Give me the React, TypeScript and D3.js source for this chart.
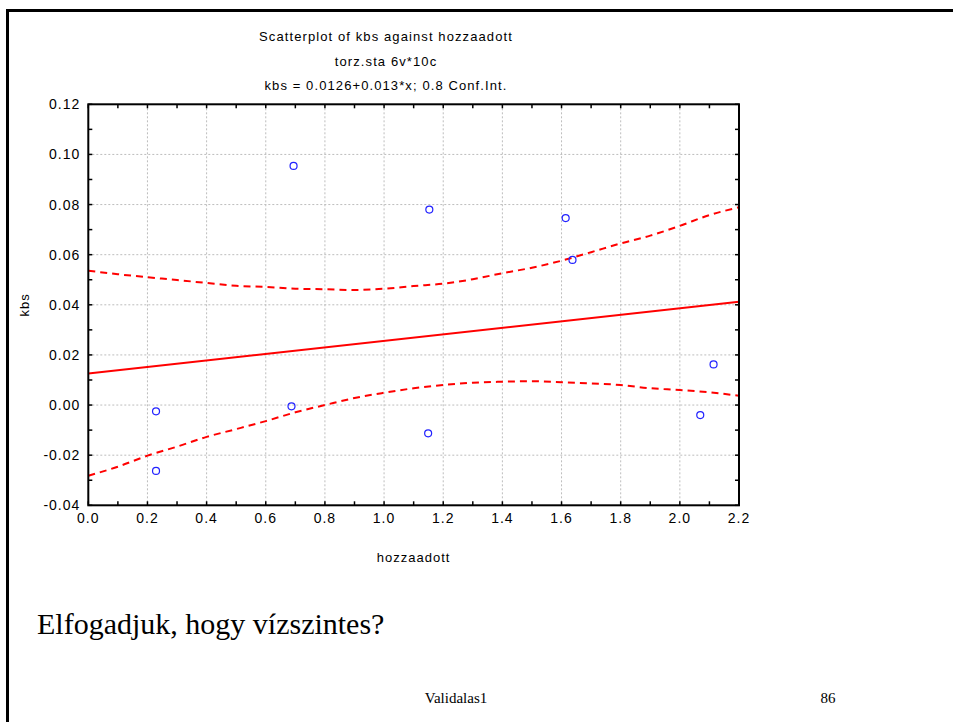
import React from "react";
import * as d3 from "d3";

// Observations: hozzaadott (x) and kbs (y)
const pointX = [0.229, 0.229, 0.687, 0.694, 1.149, 1.153, 1.614, 1.637, 2.069, 2.114];
const pointY = [-0.0025, -0.0263, -0.0005, 0.0954, -0.0113, 0.078, 0.0746, 0.0579, -0.004, 0.0162];

// Fitted line kbs = 0.0126 + 0.013*x
const fitIntercept = 0.0126;
const fitSlope = 0.013;

// 0.8 confidence band, sampled along x
const bandX = [0, 0.1, 0.2, 0.3, 0.4, 0.5, 0.6, 0.7, 0.8, 0.9, 1.0, 1.1, 1.2, 1.3, 1.4, 1.5, 1.6, 1.7, 1.8, 1.9, 2.0, 2.1, 2.2];
const bandUpper = [0.0536, 0.0522, 0.051, 0.0499, 0.0487, 0.0476, 0.0471, 0.0464, 0.0462, 0.0459, 0.0464, 0.0475, 0.0484, 0.0502, 0.0526, 0.0548, 0.0576, 0.061, 0.0645, 0.0676, 0.0715, 0.0758, 0.0789];
const bandLower = [-0.0282, -0.0246, -0.0202, -0.0166, -0.0127, -0.0096, -0.0064, -0.0029, 0.0, 0.0028, 0.0049, 0.0067, 0.008, 0.0089, 0.0093, 0.0095, 0.0091, 0.0086, 0.008, 0.0067, 0.006, 0.0051, 0.0037];

// Axis ticks
const xTicks = [0, 0.2, 0.4, 0.6, 0.8, 1.0, 1.2, 1.4, 1.6, 1.8, 2.0, 2.2];
const xMinorTicks = d3.range(0, 23).map((i) => i / 10);
const yTicks = [-0.04, -0.02, 0.0, 0.02, 0.04, 0.06, 0.08, 0.1, 0.12];
const yMinorTicks = d3.range(-4, 13).map((i) => i / 100);

const titleLines = [
  "Scatterplot of kbs against hozzaadott",
  "torz.sta 6v*10c",
  "kbs = 0.0126+0.013*x; 0.8 Conf.Int.",
];

const W = 953;
const H = 722;
const plot = { left: 88.3, right: 739, top: 104.3, bottom: 505.3 };

export default function App() {
  const x = d3.scaleLinear().domain([0, 2.2]).range([plot.left, plot.right]);
  const y = d3.scaleLinear().domain([-0.04, 0.12]).range([plot.bottom, plot.top]);

  const bandLine = (vals: number[]) =>
    d3
      .line<number>()
      .x((_, i) => x(bandX[i]))
      .y((d) => y(d))
      .curve(d3.curveMonotoneX)(vals) as string;

  const fitPath = d3
    .line<number>()
    .x((d) => x(d))
    .y((d) => y(fitIntercept + fitSlope * d))([0, 2.2]) as string;

  const sans = "'Liberation Sans', Arial, sans-serif";
  const serif = "'Liberation Serif', 'Times New Roman', serif";
  const tickLen = 4;

  return (
    <svg
      width={W}
      height={H}
      style={{ position: "absolute", left: 0, top: 0, background: "#fff" }}
    >
      {/* page frame */}
      <path d={`M7.5,${H} V10.5 H${W}`} fill="none" stroke="#000" strokeWidth={3} />

      {/* titles */}
      {titleLines.map((t, i) => (
        <text
          key={i}
          x={386}
          y={41 + i * 24.5}
          textAnchor="middle"
          fontFamily={sans}
          fontSize={13}
          letterSpacing={1.1}
        >
          {t}
        </text>
      ))}

      {/* grid */}
      <g stroke="#bdbdbd" strokeWidth={1} strokeDasharray="2,2">
        {xTicks.slice(1, -1).map((t) => (
          <line key={`gx${t}`} x1={x(t)} x2={x(t)} y1={plot.top} y2={plot.bottom} />
        ))}
        {yTicks.slice(1, -1).map((t) => (
          <line key={`gy${t}`} x1={plot.left} x2={plot.right} y1={y(t)} y2={y(t)} />
        ))}
      </g>

      {/* confidence band */}
      <g fill="none" stroke="#ff0000" strokeWidth={2} strokeDasharray="7,5">
        <path d={bandLine(bandUpper)} />
        <path d={bandLine(bandLower)} />
      </g>

      {/* fitted line */}
      <path d={fitPath} fill="none" stroke="#ff0000" strokeWidth={2} />

      {/* points */}
      {pointX.map((px, i) => (
        <circle
          key={i}
          cx={x(px)}
          cy={y(pointY[i])}
          r={3.5}
          fill="none"
          stroke="#2222ff"
          strokeWidth={1.2}
        />
      ))}

      {/* ticks */}
      <g stroke="#000" strokeWidth={1.5}>
        {xMinorTicks.map((t) => (
          <g key={`tx${t}`}>
            <line x1={x(t)} x2={x(t)} y1={plot.bottom} y2={plot.bottom - tickLen} />
            <line x1={x(t)} x2={x(t)} y1={plot.top} y2={plot.top + tickLen} />
          </g>
        ))}
        {yMinorTicks.map((t) => (
          <g key={`ty${t}`}>
            <line x1={plot.left} x2={plot.left + tickLen} y1={y(t)} y2={y(t)} />
            <line x1={plot.right} x2={plot.right - tickLen} y1={y(t)} y2={y(t)} />
          </g>
        ))}
      </g>

      {/* plot frame */}
      <rect
        x={plot.left}
        y={plot.top}
        width={plot.right - plot.left}
        height={plot.bottom - plot.top}
        fill="none"
        stroke="#000"
        strokeWidth={2}
      />

      {/* tick labels */}
      <g fontFamily={sans} fontSize={14} letterSpacing={1}>
        {xTicks.map((t) => (
          <text key={`lx${t}`} x={x(t)} y={plot.bottom + 18} textAnchor="middle">
            {t.toFixed(1)}
          </text>
        ))}
        {yTicks.map((t) => (
          <text key={`ly${t}`} x={plot.left - 8} y={y(t) + 5} textAnchor="end">
            {t.toFixed(2)}
          </text>
        ))}
      </g>

      {/* axis titles */}
      <text
        x={(plot.left + plot.right) / 2}
        y={562}
        textAnchor="middle"
        fontFamily={sans}
        fontSize={13}
        letterSpacing={1}
      >
        hozzaadott
      </text>
      <text
        transform={`translate(29,${(plot.top + plot.bottom) / 2}) rotate(-90)`}
        textAnchor="middle"
        fontFamily={sans}
        fontSize={13}
        letterSpacing={1}
      >
        kbs
      </text>

      {/* slide text */}
      <text x={37} y={634} fontFamily={serif} fontSize={30}>
        Elfogadjuk, hogy vízszintes?
      </text>
      <text x={456} y={703} textAnchor="middle" fontFamily={serif} fontSize={15}>
        Validalas1
      </text>
      <text x={828} y={703} textAnchor="middle" fontFamily={serif} fontSize={15}>
        86
      </text>
    </svg>
  );
}
